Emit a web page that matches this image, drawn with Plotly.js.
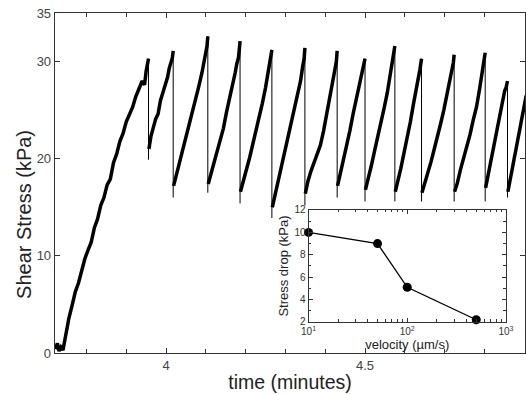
<!DOCTYPE html>
<html>
<head>
<meta charset="utf-8">
<script src="https://cdn.plot.ly/plotly-3.0.1.min.js"></script>
<style>html,body{margin:0;padding:0;background:#fff;}#chart{width:526px;height:394px;}</style>
</head>
<body>
<div id="chart"></div>
<script>
// Main record: time (minutes) and shear stress (kPa); a repeated time marks a slip (stress drop)
const time = [
  3.722,3.727,3.731,3.736,3.741,3.748,3.756,3.764,3.772,3.780,3.788,3.796,3.804,3.812,3.820,3.828,3.836,3.844,3.852,3.860,3.868,3.876,3.884,3.892,3.900,3.908,3.916,3.924,3.932,3.940,3.946,3.950,3.956,3.956,
  3.957,3.962,3.968,3.974,3.980,3.986,3.992,3.998,4.004,4.008,4.012,4.016,4.018,4.018,
  4.019,4.026,4.034,4.042,4.050,4.058,4.066,4.074,4.082,4.090,4.096,4.100,4.103,4.105,4.105,
  4.106,4.113,4.120,4.128,4.136,4.144,4.152,4.160,4.168,4.174,4.178,4.182,4.184,4.186,4.186,
  4.187,4.194,4.202,4.210,4.218,4.226,4.234,4.242,4.250,4.256,4.260,4.264,4.266,4.266,
  4.267,4.274,4.282,4.290,4.298,4.306,4.314,4.322,4.330,4.338,4.343,4.347,4.349,4.349,
  4.350,4.356,4.364,4.372,4.380,4.388,4.396,4.404,4.412,4.418,4.424,4.428,4.430,4.430,
  4.431,4.438,4.446,4.454,4.462,4.470,4.478,4.484,4.490,4.495,4.498,4.500,4.500,
  4.501,4.508,4.516,4.524,4.532,4.540,4.548,4.556,4.562,4.567,4.571,4.575,4.575,
  4.576,4.582,4.590,4.598,4.606,4.614,4.622,4.628,4.634,4.638,4.642,4.642,
  4.643,4.650,4.658,4.666,4.674,4.682,4.690,4.698,4.706,4.713,4.718,4.722,4.724,4.724,
  4.725,4.732,4.740,4.748,4.756,4.764,4.772,4.780,4.788,4.794,4.798,4.802,4.802,
  4.803,4.810,4.817,4.824,4.831,4.838,4.845,4.851,4.855,4.858,4.858,
  4.859,4.865,4.872,4.879,4.886,4.893,4.899,4.905
];
const stress = [
  0.4,1.0,0.2,0.6,0.3,2.0,3.6,4.9,6.3,7.2,8.6,9.7,10.6,11.4,12.9,13.8,15.2,16.0,17.3,17.9,19.6,20.5,21.8,22.6,23.8,24.6,25.3,26.4,27.2,28.0,27.6,29.0,30.3,19.9,
  21.0,22.3,23.2,24.1,24.6,26.0,26.8,27.6,28.4,29.3,29.9,30.4,31.1,16.0,
  17.2,18.3,19.6,21.0,22.1,23.4,24.9,26.0,27.4,28.8,30.0,30.9,31.6,32.6,16.5,
  17.4,18.6,19.5,20.7,21.9,23.1,24.8,26.2,27.6,28.9,29.8,30.4,31.2,32.1,15.4,
  16.6,17.6,18.7,20.1,21.5,22.8,24.4,25.7,27.3,28.8,29.6,30.4,31.2,13.9,
  15.0,16.3,17.9,19.3,20.6,22.1,23.6,25.0,26.5,28.0,29.4,30.3,31.4,15.2,
  16.4,17.6,18.7,19.6,20.6,21.4,22.9,24.6,26.4,27.6,29.0,30.0,31.1,16.0,
  17.2,18.4,19.8,21.4,22.9,24.6,26.2,27.4,28.4,29.3,29.8,30.3,15.6,
  16.8,17.9,19.3,20.8,22.2,23.6,25.2,26.8,28.2,29.4,30.3,31.6,15.6,
  16.6,17.5,19.0,20.6,22.1,23.8,25.7,26.9,28.2,29.2,30.3,15.6,
  16.5,17.4,18.4,19.7,21.0,22.2,23.6,25.0,26.6,28.2,29.3,29.9,30.7,15.6,
  16.6,17.5,18.9,20.1,21.0,22.5,24.0,25.3,27.2,28.6,29.6,30.9,15.6,
  17.0,18.5,19.8,21.3,22.6,24.4,25.6,27.0,27.4,28.0,16.0,
  16.6,17.9,19.5,21.0,22.6,24.0,25.4,26.5
];
// Inset: stress drop vs driving velocity
const velocity = [10, 50, 100, 500];
const stressDrop = [10.0, 9.0, 5.1, 2.2];
const insetXTicks = [10, 100, 1000];
const insetXTickText = ['10<sup>1</sup>', '10<sup>2</sup>', '10<sup>3</sup>'];

// split the record into loading ramps (thick) and slips (thin)
const rampX = [], rampY = [], dropX = [], dropY = [];
for (let i = 0; i < time.length; i++) {
  if (i + 1 < time.length && time[i + 1] === time[i]) {
    rampX.push(time[i], null); rampY.push(stress[i], null);
    dropX.push(time[i], time[i + 1], null); dropY.push(stress[i], stress[i + 1], null);
    i += 1;
  } else {
    rampX.push(time[i]); rampY.push(stress[i]);
  }
}
const minorLog = [];
for (const d of [10, 100]) for (let k = 2; k <= 9; k++) minorLog.push(d * k);

const FONT = 'Liberation Sans, Arial, Helvetica, sans-serif';
const data = [
  {x: rampX, y: rampY, type: 'scatter', mode: 'lines', line: {color: '#000', width: 3.5}, connectgaps: false, hoverinfo: 'skip', xaxis: 'x', yaxis: 'y'},
  {x: dropX, y: dropY, type: 'scatter', mode: 'lines', line: {color: '#000', width: 1}, connectgaps: false, hoverinfo: 'skip', xaxis: 'x', yaxis: 'y'},
  {x: velocity, y: stressDrop, type: 'scatter', mode: 'lines+markers', line: {color: '#000', width: 1.3},
   marker: {color: '#000', size: 9}, cliponaxis: false, xaxis: 'x2', yaxis: 'y2'}
];
const layout = {
  width: 526, height: 394,
  margin: {l: 55, r: 1, t: 13, b: 41},
  paper_bgcolor: '#fff', plot_bgcolor: 'rgba(0,0,0,0)',
  showlegend: false,
  font: {family: FONT, color: '#333'},
  xaxis: {
    domain: [0, 1], range: [3.721, 4.902], tickmode: 'linear', tick0: 4, dtick: 0.5,
    ticks: 'inside', ticklen: 5, tickwidth: 1, tickcolor: '#333',
    minor: {tickmode: 'linear', tick0: 4, dtick: 0.1, ticks: 'inside', ticklen: 4, tickcolor: '#333'},
    showline: true, linecolor: '#333', linewidth: 1.3, mirror: 'allticks',
    showgrid: false, zeroline: false,
    tickfont: {family: FONT, size: 13, color: '#444'},
    title: {text: 'time (minutes)', font: {family: FONT, size: 19.5, color: '#222'}, standoff: 3}
  },
  yaxis: {
    domain: [0, 1], range: [0, 35], tickmode: 'array', tickvals: [0, 10, 20, 30, 35],
    ticks: 'inside', ticklen: 5, tickwidth: 1, tickcolor: '#333',
    showline: true, linecolor: '#333', linewidth: 1.3, mirror: 'allticks',
    showgrid: false, zeroline: false,
    tickfont: {family: FONT, size: 13, color: '#444'}
  },
  xaxis2: {
    type: 'log', domain: [0.5394, 0.9595], anchor: 'y2', range: [1, 3],
    tickmode: 'array', tickvals: insetXTicks, ticktext: insetXTickText,
    ticks: 'inside', ticklen: 4, tickcolor: '#333',
    minor: {tickmode: 'array', tickvals: minorLog, ticks: 'inside', ticklen: 2.5, tickcolor: '#333'},
    showline: true, linecolor: '#333', linewidth: 1, mirror: 'allticks',
    showgrid: false, zeroline: false,
    tickfont: {family: FONT, size: 10, color: '#333'},
    title: {text: 'velocity (µm/s)', font: {family: FONT, size: 13, color: '#222'}, standoff: 1}
  },
  yaxis2: {
    domain: [0.0912, 0.4206], anchor: 'x2', range: [2, 12], tickmode: 'linear', tick0: 2, dtick: 2,
    ticks: 'inside', ticklen: 4, tickcolor: '#333',
    minor: {tickmode: 'linear', tick0: 2, dtick: 1, ticks: 'inside', ticklen: 2.5, tickcolor: '#333'},
    showline: true, linecolor: '#333', linewidth: 1, mirror: 'allticks',
    showgrid: false, zeroline: false,
    tickfont: {family: FONT, size: 10, color: '#333'},
    title: {text: 'Stress drop (kPa)', font: {family: FONT, size: 13, color: '#222'}, standoff: 2}
  },
  annotations: [
    {text: 'Shear Stress (kPa)', xref: 'paper', yref: 'paper', x: -0.066, y: 0.409,
     xanchor: 'center', yanchor: 'middle', textangle: -90, showarrow: false,
     font: {family: FONT, size: 20, color: '#222'}}
  ]
};
Plotly.newPlot('chart', data, layout, {staticPlot: true, displayModeBar: false});
</script>
</body>
</html>
